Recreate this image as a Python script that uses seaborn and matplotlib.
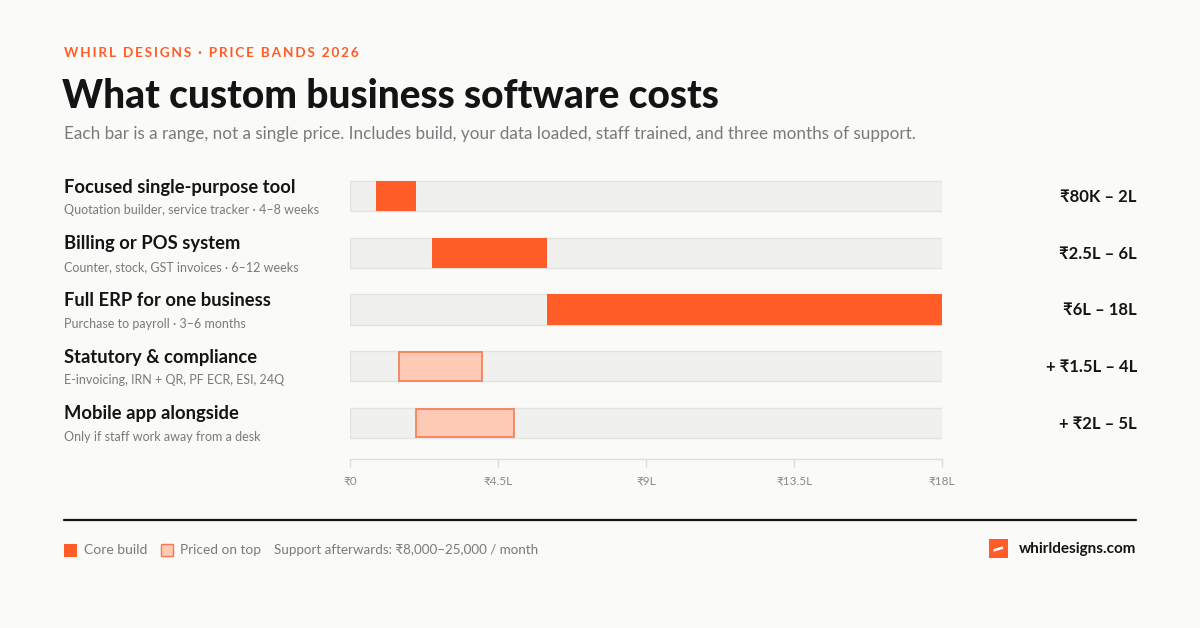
import matplotlib
matplotlib.use("Agg")
import matplotlib.pyplot as plt
import seaborn as sns
import pandas as pd

# chart data
rows = ["Focused single-purpose tool", "Billing or POS system", "Full ERP for one business",
        "Statutory & compliance", "Mobile app alongside"]
notes = ["Quotation builder, service tracker · 4–8 weeks", "Counter, stock, GST invoices · 6–12 weeks",
         "Purchase to payroll · 3–6 months", "E-invoicing, IRN + QR, PF ECR, ESI, 24Q",
         "Only if staff work away from a desk"]
low = [0.8, 2.5, 6, 1.5, 2]      # lakh
high = [2, 6, 18, 4, 5]
kind = ["core", "core", "core", "extra", "extra"]
price_labels = ["₹80K – 2L", "₹2.5L – 6L", "₹6L – 18L", "+ ₹1.5L – 4L", "+ ₹2L – 5L"]
ticks = [0, 4.5, 9, 13.5, 18]
tick_labels = ["₹0", "₹4.5L", "₹9L", "₹13.5L", "₹18L"]
scale_max = 18

BG = "#FAFAF8"
ORANGE = "#FF5C28"
LIGHT = "#FFCAB5"
LIGHT_EDGE = "#F57A50"
TRACK = "#F0F0EE"
TRACK_EDGE = "#E2E2DF"
INK = "#141414"
GREY = "#7A7A7A"

sns.set_theme(style="white")
plt.rcParams["font.family"] = ["Lato", "DejaVu Sans"]

W, H = 1200, 628
fig = plt.figure(figsize=(12, 6.28), dpi=100, facecolor=BG)


def px(x, y):
    return x / W, 1 - y / H


def txt(x, y, s, **kw):
    fig.text(*px(x, y), s, **kw)


# header
header = "\u2009".join("WHIRL DESIGNS · PRICE BANDS 2026").replace("\u2009 \u2009", "\u2002")
txt(64, 53, header, color=ORANGE, fontsize=9.8, fontweight="bold", va="center")
txt(62, 96, "What custom business software costs", color=INK, fontsize=28,
    fontweight="black", va="center")
txt(64, 134, "Each bar is a range, not a single price. Includes build, your data loaded, "
    "staff trained, and three months of support.", color=GREY, fontsize=12.35, va="center")

# bars
df = pd.DataFrame({"row": rows, "track": [scale_max] * len(rows), "low": low,
                   "high": high, "kind": kind})
row_gap = 56.75
ax_top = 196 - row_gap / 2
ax_bottom = 459.3
ax = fig.add_axes([350 / W, 1 - ax_bottom / H, 592 / W, (ax_bottom - ax_top) / H])
ax.set_facecolor(BG)
sns.barplot(data=df, x="track", y="row", orient="h", color=TRACK, width=0.53,
            edgecolor=TRACK_EDGE, linewidth=1, ax=ax, saturation=1)
for i, r in df.iterrows():
    if r["kind"] == "core":
        ax.barh(i, r["high"] - r["low"], left=r["low"], height=0.53, color=ORANGE,
                linewidth=0, zorder=3)
    else:
        ax.barh(i, r["high"] - r["low"], left=r["low"], height=0.51, color=LIGHT,
                edgecolor=LIGHT_EDGE, linewidth=1.2, zorder=3)

ax.set_xlim(0, scale_max)
ax.set_ylim((ax_bottom - ax_top) / row_gap - 0.5, -0.5)
ax.set_xticks(ticks)
ax.set_xticklabels(tick_labels)
ax.set_yticks([])
ax.set_xlabel("")
ax.set_ylabel("")
for s in ["top", "right", "left"]:
    ax.spines[s].set_visible(False)
ax.spines["bottom"].set_color("#DDDDDA")
ax.spines["bottom"].set_linewidth(1)
ax.tick_params(axis="x", colors="#DDDDDA", length=6, width=1, labelsize=8.5,
               labelcolor="#8A8A8A", pad=6, bottom=True)

# row labels and prices
for i in range(len(rows)):
    yc = 196 + row_gap * i
    txt(64, yc - 9, rows[i], color=INK, fontsize=13.2, fontweight="bold", va="center")
    txt(64, yc + 14, notes[i], color=GREY, fontsize=9, va="center")
    txt(1137, yc + 1, price_labels[i], color=INK, fontsize=12, fontweight="bold",
        va="center", ha="right")

# footer rule
fig.add_artist(plt.Line2D([64 / W, 1136 / W], [1 - 520 / H] * 2, color=INK, lw=1.6))

# legend
fig.add_artist(plt.Rectangle(px(64, 556.5), 13 / W, 13 / H, color=ORANGE, lw=0))
txt(84, 550, "Core build", color=GREY, fontsize=10, va="center")
fig.add_artist(plt.Rectangle(px(160.5, 556), 12 / W, 12 / H, facecolor=LIGHT,
                             edgecolor=LIGHT_EDGE, lw=1))
txt(180, 550, "Priced on top", color=GREY, fontsize=9.8, va="center")
txt(274, 550, "Support afterwards: ₹8,000–25,000 / month", color=GREY, fontsize=9.6,
    va="center")

# logo
fig.add_artist(plt.Rectangle(px(989, 558), 19 / W, 19 / H, color=ORANGE, lw=0))
fig.add_artist(plt.Line2D([993.5 / W, 1003 / W], [1 - 550.5 / H, 1 - 547.5 / H],
                          color="white", lw=1.8, solid_capstyle="butt"))
txt(1136, 549, "whirldesigns.com", color=INK, fontsize=11, fontweight="bold",
    va="center", ha="right")

fig.savefig("out.png", dpi=100, facecolor=BG)
